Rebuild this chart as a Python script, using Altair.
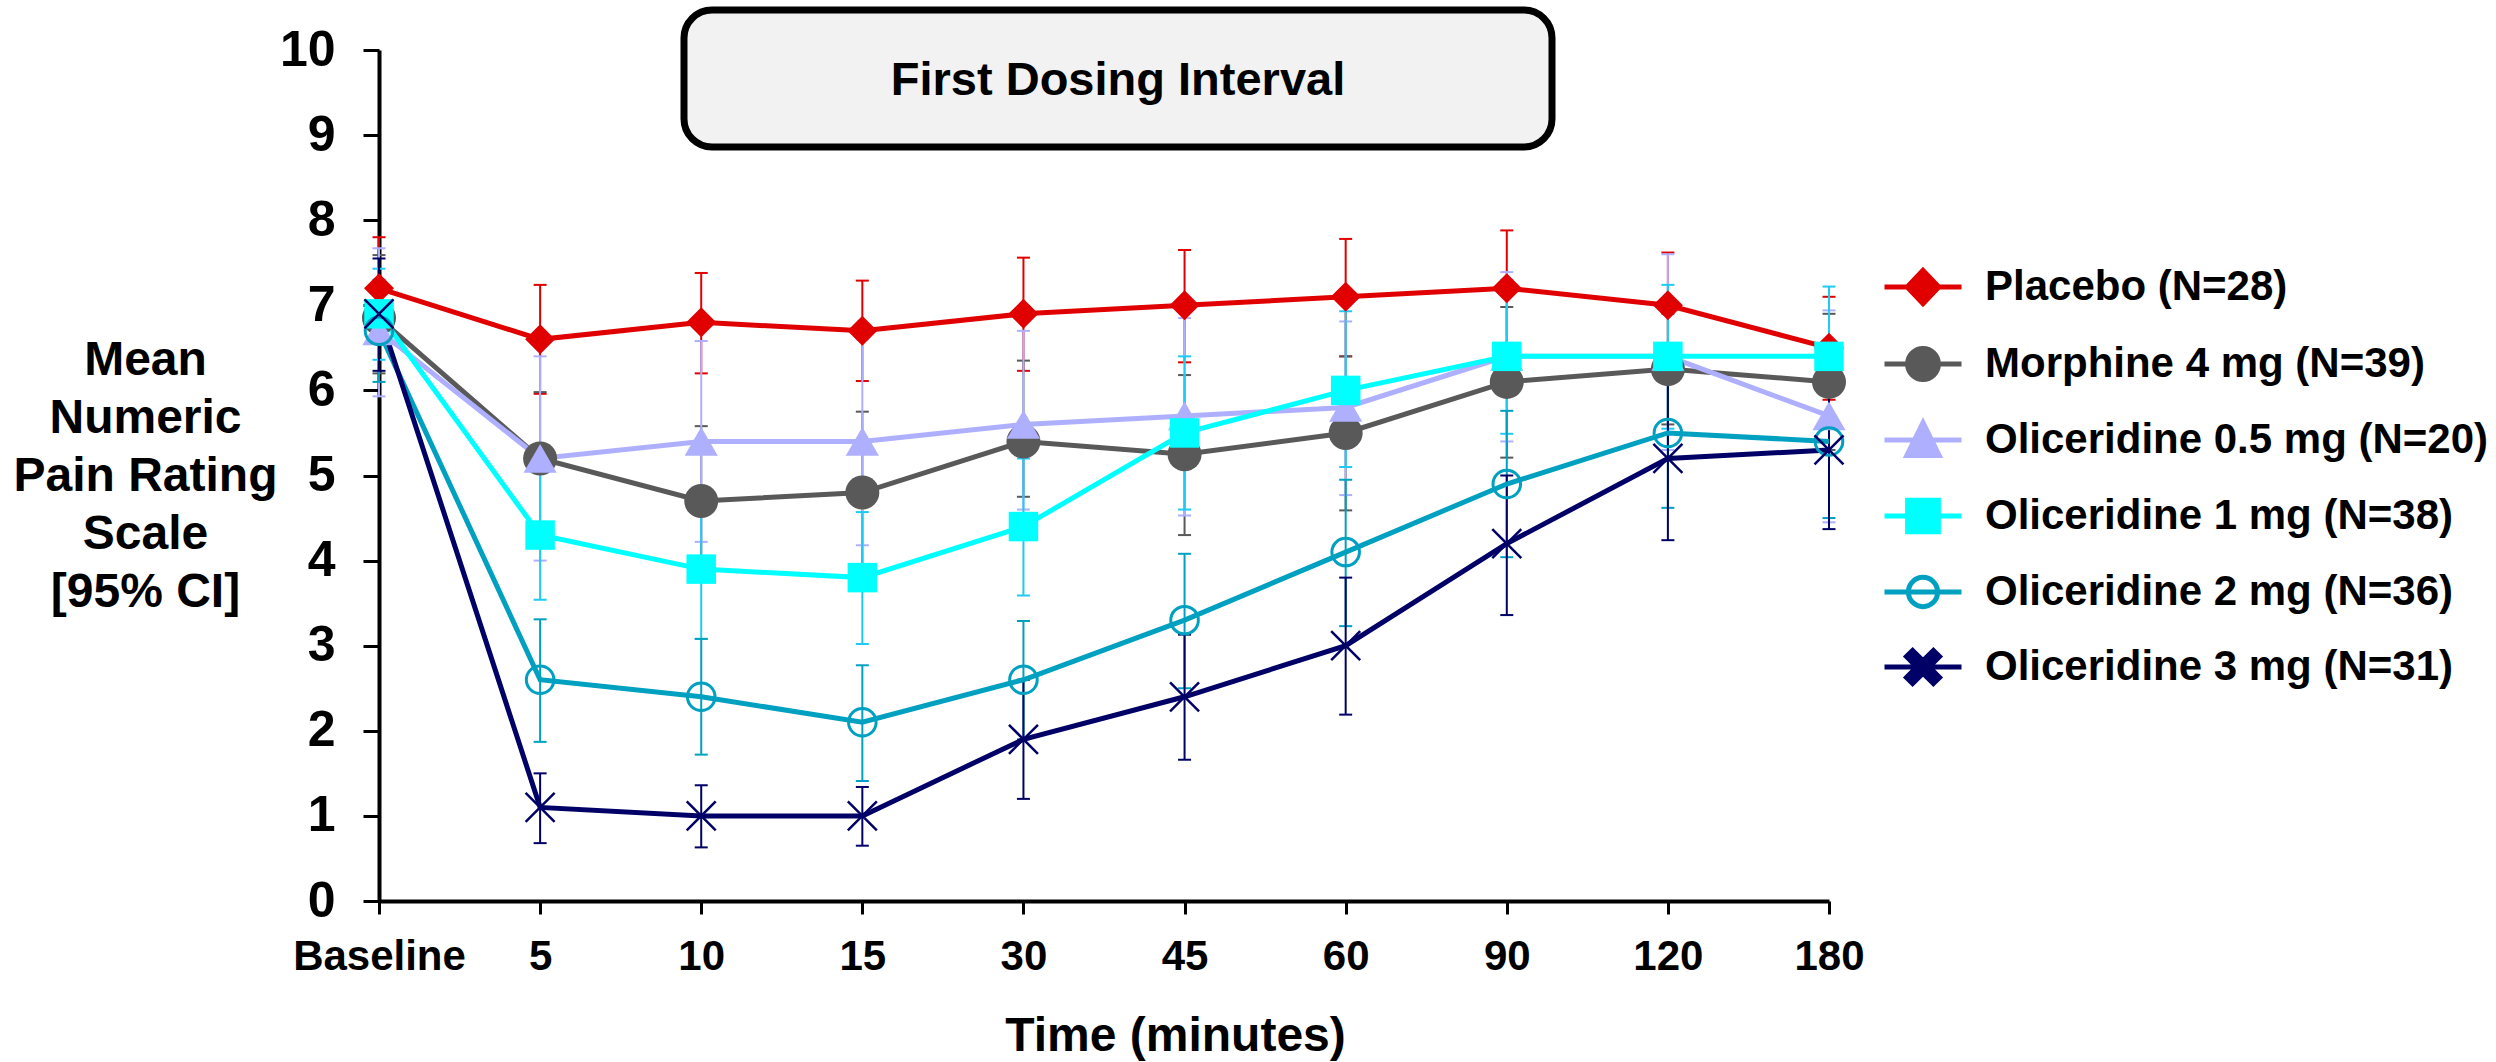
import altair as alt
import pandas as pd

# ---------------- data ----------------
times = ["Baseline", "5", "10", "15", "30", "45", "60", "90", "120", "180"]
series_names = [
    "Placebo (N=28)",
    "Morphine 4 mg (N=39)",
    "Oliceridine 0.5 mg (N=20)",
    "Oliceridine 1 mg (N=38)",
    "Oliceridine 2 mg (N=36)",
    "Oliceridine 3 mg (N=31)",
]

placebo_mean = [7.2, 6.6, 6.8, 6.7, 6.9, 7.0, 7.1, 7.2, 7.0, 6.5]
placebo_lo = [6.6, 5.96, 6.2, 6.11, 6.23, 6.33, 6.4, 6.5, 6.35, 5.89]
placebo_hi = [7.8, 7.24, 7.38, 7.29, 7.56, 7.65, 7.78, 7.88, 7.62, 7.1]

morphine_mean = [6.85, 5.2, 4.7, 4.8, 5.4, 5.25, 5.5, 6.1, 6.25, 6.1]
morphine_lo = [6.2, 4.4, 3.82, 3.85, 4.75, 4.3, 4.59, 5.21, 5.6, 5.3]
morphine_hi = [7.59, 5.98, 5.58, 5.75, 6.35, 6.18, 6.4, 6.98, 6.9, 6.9]

oli05_mean = [6.7, 5.2, 5.4, 5.4, 5.6, 5.7, 5.8, 6.4, 6.4, 5.7]
oli05_lo = [5.93, 4.0, 4.22, 4.18, 4.6, 4.53, 4.77, 5.4, 5.3, 4.45]
oli05_hi = [7.67, 6.4, 6.58, 6.6, 6.7, 6.85, 6.81, 7.39, 7.6, 6.94]

oli1_mean = [6.9, 4.3, 3.9, 3.8, 4.4, 5.5, 6.0, 6.4, 6.4, 6.4]
oli1_lo = [6.36, 3.54, 3.08, 3.02, 3.59, 4.6, 5.1, 5.49, 5.55, 5.6]
oli1_hi = [7.43, 5.05, 4.7, 4.57, 5.2, 6.4, 6.93, 7.3, 7.24, 7.22]

oli2_mean = [6.7, 2.6, 2.4, 2.1, 2.6, 3.3, 4.1, 4.9, 5.5, 5.4]
oli2_lo = [6.1, 1.87, 1.72, 1.41, 1.9, 2.5, 3.23, 4.04, 4.62, 4.5]
oli2_hi = [7.3, 3.31, 3.08, 2.77, 3.29, 4.08, 4.95, 5.76, 6.4, 6.3]

oli3_mean = [6.9, 1.1, 1.0, 1.0, 1.9, 2.4, 3.0, 4.2, 5.2, 5.3]
oli3_lo = [6.23, 0.68, 0.63, 0.65, 1.2, 1.66, 2.19, 3.36, 4.24, 4.37]
oli3_hi = [7.55, 1.5, 1.36, 1.34, 2.6, 3.13, 3.8, 5.0, 6.2, 6.23]

means = [placebo_mean, morphine_mean, oli05_mean, oli1_mean, oli2_mean, oli3_mean]
los = [placebo_lo, morphine_lo, oli05_lo, oli1_lo, oli2_lo, oli3_lo]
his = [placebo_hi, morphine_hi, oli05_hi, oli1_hi, oli2_hi, oli3_hi]

box_label = "First Dosing Interval"
x_title = "Time (minutes)"
y_title = ["Mean", "Numeric", "Pain Rating", "Scale", "[95% CI]"]

# ---------------- styles ----------------
line_colors = ["#E00000", "#595959", "#AFAFFF", "#00FFFF", "#00A0C0", "#000066"]
bar_colors = ["#E00000", "#595959", "#AFAFFF", "#1ECBF5", "#00A0C0", "#000066"]
marker_shapes = ["diamond", "circle", "triangle-up", "square", "circle",
                 "M-1,-1L1,1M-1,1L1,-1"]
marker_sizes = [900, 1156, 1100, 870, 760, 841]
marker_filled = [True, True, True, True, False, False]
marker_stroke_w = [0, 0, 0, 0, 3, 2.5]

X_PATH = ("M-0.43,-0.27L-0.27,-0.43L0,-0.16L0.27,-0.43L0.43,-0.27L0.16,0"
          "L0.43,0.27L0.27,0.43L0,0.16L-0.27,0.43L-0.43,0.27L-0.16,0Z")
legend_paths = [
    "M-1,0L1,0M0,-0.43L0.41,0L0,0.43L-0.41,0Z",
    "M-1,0L1,0M-0.4,0A0.4,0.4 0 1,0 0.4,0A0.4,0.4 0 1,0 -0.4,0Z",
    "M-1,0L1,0M0,-0.45L0.42,0.4L-0.42,0.4Z",
    "M-1,0L1,0M-0.4,-0.41H0.4V0.41H-0.4Z",
    "M-1,0L1,0M-0.38,0A0.38,0.38 0 1,0 0.38,0A0.38,0.38 0 1,0 -0.38,0Z",
    "M-1,0L1,0" + X_PATH,
]
legend_fills = ["#E00000", "#595959", "#AFAFFF", "#00FFFF", "transparent", "#000066"]

# ---------------- table ----------------
rows = []
for si, name in enumerate(series_names):
    for ti, t in enumerate(times):
        rows.append({"series": name, "time": t, "mean": means[si][ti],
                     "lo": los[si][ti], "hi": his[si][ti]})
df = pd.DataFrame(rows)

FONT = "Liberation Sans"

yscale = alt.Scale(domain=[0, 10], nice=False, zero=True)
xscale = alt.Scale(type="point", domain=times, padding=0)
xaxis = alt.Axis(labelAngle=0, labelFontSize=42, labelFont=FONT, labelFontWeight="bold",
                 labelColor="black", tickSize=13, tickWidth=3, tickColor="black",
                 domainColor="black", domainWidth=4, labelPadding=22,
                 titleFontSize=48, titleFont=FONT, titleFontWeight="bold",
                 titleColor="black", titleX=796, titleY=149, titleAlign="center",
                 titleBaseline="alphabetic", grid=False)
yaxis = alt.Axis(values=list(range(11)), labelFontSize=50, labelFont=FONT,
                 labelFontWeight="bold", labelColor="black", tickSize=16, tickWidth=3,
                 tickColor="black", domainColor="black", domainWidth=4, labelPadding=28,
                 titleFontSize=48, titleFont=FONT, titleFontWeight="bold",
                 titleColor="black", titleAngle=0, titleAlign="center",
                 titleBaseline="alphabetic", titleX=-234, titleY=324,
                 titleLineHeight=58, grid=False)


def X():
    return alt.X("time:N", sort=times, scale=xscale, axis=xaxis, title=x_title)


def Y(field):
    return alt.Y(field, scale=yscale, axis=yaxis, title=y_title)


layers = []

# error bars
for si, name in enumerate(series_names):
    sub = df[df["series"] == name]
    base = alt.Chart(sub)
    layers.append(base.mark_rule(color=bar_colors[si], strokeWidth=2).encode(
        x=X(), y=Y("lo:Q"), y2="hi:Q"))
    for f in ["lo", "hi"]:
        layers.append(base.mark_tick(color=bar_colors[si], size=13, thickness=2,
                                     opacity=1).encode(x=X(), y=Y(f + ":Q")))

# lines
for si, name in enumerate(series_names):
    sub = df[df["series"] == name]
    layers.append(alt.Chart(sub).mark_line(color=line_colors[si], strokeWidth=5).encode(
        x=X(), y=Y("mean:Q")))

# markers
for si, name in enumerate(series_names):
    sub = df[df["series"] == name]
    if marker_filled[si]:
        mk = alt.Chart(sub).mark_point(shape=marker_shapes[si], size=marker_sizes[si],
                                       filled=True, fill=line_colors[si],
                                       strokeWidth=0, opacity=1)
    else:
        mk = alt.Chart(sub).mark_point(shape=marker_shapes[si], size=marker_sizes[si],
                                       filled=False, stroke=line_colors[si],
                                       strokeWidth=marker_stroke_w[si], opacity=1)
    layers.append(mk.encode(x=X(), y=Y("mean:Q")))

# legend (invisible points, visible legend)
leg = dict(title=None, orient="none", legendX=1503, legendY=196, symbolSize=5929,
           symbolStrokeWidth=5, symbolOpacity=1, labelFontSize=42, labelFont=FONT,
           labelFontWeight="bold", labelColor="black", labelOffset=21,
           rowPadding=9, labelLimit=1000)
legend_layer = alt.Chart(df[df["time"] == "Baseline"]).mark_point(
    filled=True, opacity=0, strokeWidth=5).encode(
    x=X(), y=Y("mean:Q"),
    shape=alt.Shape("series:N", sort=series_names,
                    scale=alt.Scale(domain=series_names, range=legend_paths),
                    legend=alt.Legend(**leg)),
    fill=alt.Fill("series:N", sort=series_names,
                  scale=alt.Scale(domain=series_names, range=legend_fills),
                  legend=alt.Legend(**leg)),
    stroke=alt.Stroke("series:N", sort=series_names,
                      scale=alt.Scale(domain=series_names, range=line_colors),
                      legend=alt.Legend(**leg)),
)
layers.append(legend_layer)

# annotation box
box_df = pd.DataFrame({"label": [box_label]})
box = alt.Chart(box_df).mark_rect(fill="#F2F2F2", stroke="black", strokeWidth=7,
                                  cornerRadius=28).encode(
    x=alt.value(305), x2=alt.value(1173), y=alt.value(-40), y2=alt.value(97))
box_text = alt.Chart(box_df).mark_text(font=FONT, fontSize=47, fontWeight="bold",
                                       color="black", baseline="middle",
                                       align="center").encode(
    x=alt.value(739), y=alt.value(31), text="label:N")
layers += [box, box_text]

chart = alt.layer(*layers).properties(
    width=1450, height=851,
    autosize=alt.AutoSizeParams(type="none"),
    padding={"left": 379, "top": 50, "right": 667, "bottom": 161},
).configure(background="white").configure_view(stroke=None).configure_legend(rowPadding=9)

chart.save("out.html", embed_options={"renderer": "svg", "actions": False})
